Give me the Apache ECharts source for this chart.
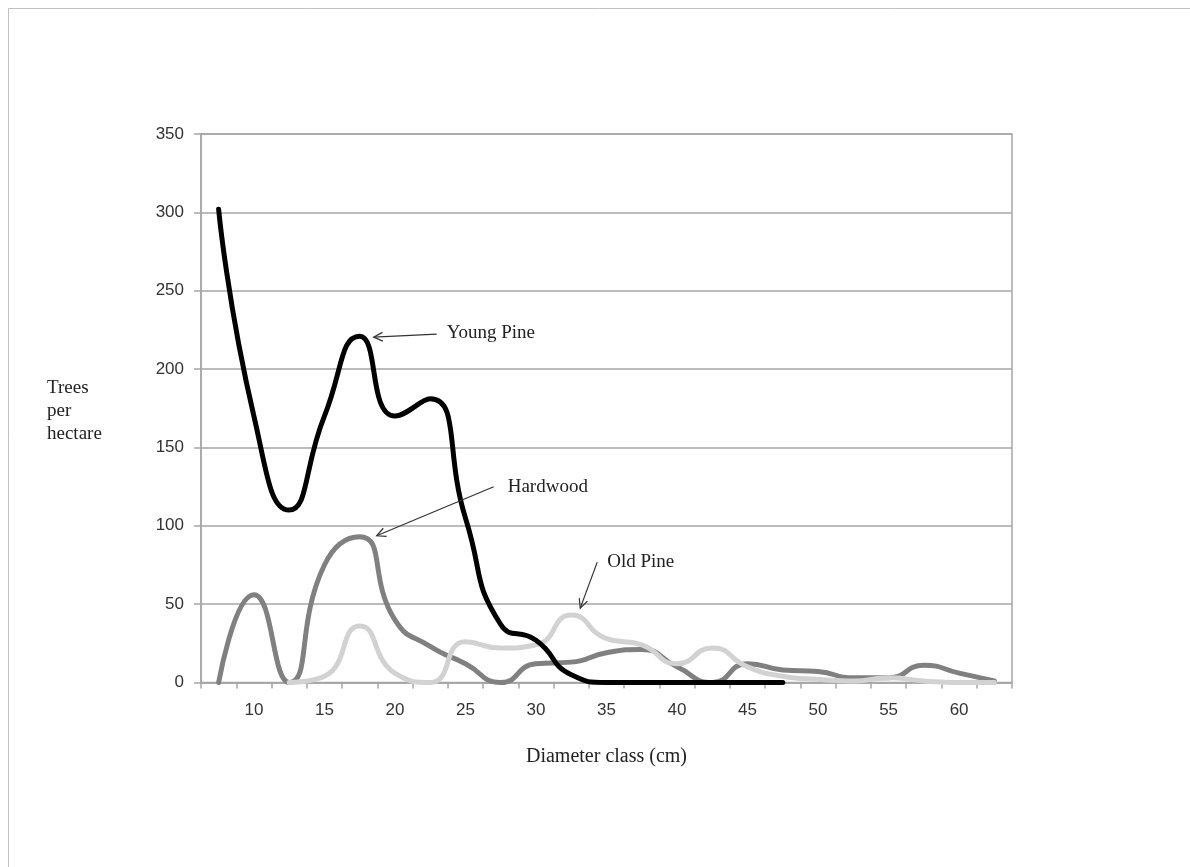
<!DOCTYPE html>
<html>
<head>
<meta charset="utf-8">
<script src="https://cdn.jsdelivr.net/npm/echarts@6/dist/echarts.min.js"></script>
<style>
html,body{margin:0;padding:0;background:#fff;}
#chart{width:1190px;height:867px;}
</style>
</head>
<body>
<div id="chart"></div>
<script>
// Diameter classes (cm)
const categories = ['7.5','10','12.5','15','17.5','20','22.5','25','27.5','30','32.5','35','37.5','40','42.5','45','47.5','50','52.5','55','57.5','60','62.5'];
// Trees per hectare
const youngPine = [302,170,110,170,221,170,181,105,37,27,5,0,0,0,0,0,0,null,null,null,null,null,null];
const hardwood  = [0,56,0,75,93,40,23,12,0,12,13,19,21,10,0,12,8,7,3,3,11,6,1];
const oldPine   = [null,null,0,4,36,6,0,26,22,24,43,28,24,12,22,10,4,2,1,3,1,0,0];
const yTicks = {min:0, max:350, interval:50};

const chart = echarts.init(document.getElementById('chart'));
const serif = '"Liberation Serif", "DejaVu Serif", serif';
const sans = '"Liberation Sans", Arial, sans-serif';

const option = {
  animation: false,
  backgroundColor: '#fff',
  grid: {left: 201, right: 178, top: 134, bottom: 184.5, show: true, borderColor: '#a6a6a6', borderWidth: 1.5},
  xAxis: {
    type: 'category',
    data: categories,
    boundaryGap: true,
    name: 'Diameter class (cm)',
    nameLocation: 'middle',
    nameGap: 64,
    nameTextStyle: {fontFamily: serif, fontSize: 20, color: '#222'},
    axisLine: {lineStyle: {color: '#a6a6a6', width: 1.5}},
    axisTick: {show: true, interval: 0, length: 6, lineStyle: {color: '#a6a6a6', width: 1.5}},
    axisLabel: {interval: function(i){return i % 2 === 1;}, fontFamily: sans, fontSize: 17, color: '#333', margin: 19},
    splitLine: {show: false}
  },
  yAxis: {
    type: 'value',
    min: yTicks.min, max: yTicks.max, interval: yTicks.interval,
    axisLine: {show: true, lineStyle: {color: '#a6a6a6', width: 1.5}},
    axisTick: {show: true, length: 7, lineStyle: {color: '#a6a6a6', width: 1.5}},
    axisLabel: {fontFamily: sans, fontSize: 17, color: '#333', margin: 17},
    splitLine: {lineStyle: {color: '#a6a6a6', width: 1.5}}
  },
  series: [
    {name: 'Hardwood', type: 'line', data: hardwood, smooth: 0.55, symbol: 'none',
     lineStyle: {color: '#808080', width: 5, cap: 'round', join: 'round'}, z: 2},
    {name: 'Old Pine', type: 'line', data: oldPine, smooth: 0.55, symbol: 'none',
     lineStyle: {color: '#d2d2d2', width: 5, cap: 'round', join: 'round'}, z: 3},
    {name: 'Young Pine', type: 'line', data: youngPine, smooth: 0.55, symbol: 'none',
     lineStyle: {color: '#000', width: 5, cap: 'round', join: 'round'}, z: 4}
  ]
};
chart.setOption(option);

// Annotations anchored to data points
function px(cat, val){ return chart.convertToPixel({gridIndex:0}, [cat, val]); }
function arrow(x1, y1, x2, y2){
  const a = Math.atan2(y2 - y1, x2 - x1);
  const L = 10, w = 0.45;
  const p1 = [x2 - L*Math.cos(a - w), y2 - L*Math.sin(a - w)];
  const p2 = [x2 - L*Math.cos(a + w), y2 - L*Math.sin(a + w)];
  return [
    {type:'line', shape:{x1:x1,y1:y1,x2:x2,y2:y2}, style:{stroke:'#333', lineWidth:1.2}, z:10},
    {type:'polyline', shape:{points:[p1,[x2,y2],p2]}, style:{stroke:'#333', lineWidth:1.2, fill:null}, z:10}
  ];
}
const yp = px('17.5', 221);
const hw = px('17.5', 93);
const op = px('32.5', 43);
const els = [];
// outer frame
els.push({type:'rect', shape:{x:8.5,y:8.5,width:1200,height:900}, style:{stroke:'#c0c0c0', lineWidth:1, fill:null}, z:0});
els.push({type:'text', style:{text:'Trees\nper\nhectare', x:47, y:377, font:'19px ' + serif, fill:'#222', lineHeight:23}, z:10});
// Young Pine
els.push(...arrow(yp[0]+77, yp[1]-2, yp[0]+14, yp[1]+1));
els.push({type:'text', style:{text:'Young Pine', x:yp[0]+87, y:yp[1]-3, font:'19px ' + serif, fill:'#222', verticalAlign:'middle'}, z:10});
// Hardwood
els.push(...arrow(hw[0]+134, hw[1]-50, hw[0]+17, hw[1]-1));
els.push({type:'text', style:{text:'Hardwood', x:hw[0]+148, y:hw[1]-50, font:'19px ' + serif, fill:'#222', verticalAlign:'middle'}, z:10});
// Old Pine
els.push(...arrow(op[0]+26, op[1]-53, op[0]+9, op[1]-7));
els.push({type:'text', style:{text:'Old Pine', x:op[0]+36, y:op[1]-53, font:'19px ' + serif, fill:'#222', verticalAlign:'middle'}, z:10});
chart.setOption({graphic: {elements: els}});
</script>
</body>
</html>
